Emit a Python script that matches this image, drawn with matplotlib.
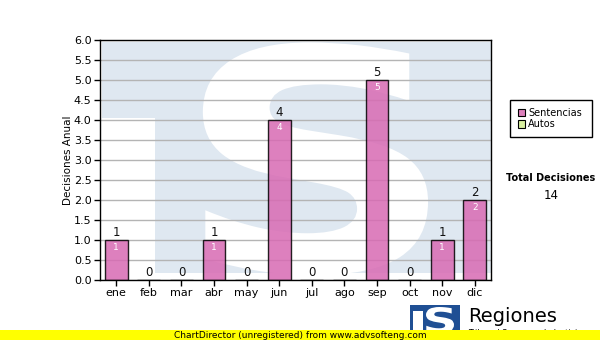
import matplotlib
matplotlib.use("Agg")
import matplotlib.pyplot as plt
from matplotlib.patches import Rectangle, Polygon, PathPatch
from matplotlib.textpath import TextPath
from matplotlib.transforms import Affine2D
from matplotlib.font_manager import FontProperties

months = ["ene", "feb", "mar", "abr", "may", "jun", "jul", "ago", "sep", "oct", "nov", "dic"]
sentencias = [1, 0, 0, 1, 0, 4, 0, 0, 5, 0, 1, 2]
y_ticks = [0.0, 0.5, 1.0, 1.5, 2.0, 2.5, 3.0, 3.5, 4.0, 4.5, 5.0, 5.5, 6.0]
legend_labels = ["Sentencias", "Autos"]
legend_colors = ["#dd80bc", "#d8f0a0"]
total_label = "Total Decisiones"
total_value = sum(sentencias)

plt.rcParams["font.family"] = ["DejaVu Sans"]


def letter_patch(ch, x0, y0, w, h, transform, color, zorder):
    """Glyph outline stretched to fill a box (x0, y0, w, h) in the given coords."""
    tp = TextPath((0, 0), ch, size=1, prop=FontProperties(family="DejaVu Sans", weight="bold"))
    ext = tp.get_extents()
    tr = (Affine2D().translate(-ext.x0, -ext.y0)
          .scale(w / ext.width, h / ext.height).translate(x0, y0))
    return PathPatch(tr.transform_path(tp), transform=transform, facecolor=color,
                     edgecolor="none", zorder=zorder)


fig = plt.figure(figsize=(6, 3.4), dpi=100)
ax = fig.add_axes([100 / 600, 1 - 280 / 340, 391 / 600, 240 / 340])

# watermark logo (light blue T + block with white S)
wm = "#dfe8f1"
ax.add_patch(Polygon([(0.005, 0.992), (1.0, 0.992), (1.0, 0.03), (0.14, 0.03),
                      (0.14, 0.675), (0.005, 0.675)], closed=True,
                     transform=ax.transAxes, facecolor=wm, edgecolor="none", zorder=0))
ax.add_patch(letter_patch("S", 0.263, 0.02, 0.576, 0.97, ax.transAxes, "white", 0.5))

x = list(range(len(months)))
ax.set_axisbelow(True)
ax.yaxis.grid(True, color="#b4b4b4", linewidth=1, zorder=1)
bars = ax.bar(x, sentencias, width=0.7, color="#d86ab3", alpha=0.85,
              edgecolor="black", linewidth=1, zorder=2)
for b in bars:
    b.set_edgecolor((0, 0, 0, 1))

for xi, v in zip(x, sentencias):
    ax.text(xi, v + 0.03, str(v), ha="center", va="bottom", fontsize=8.5, color="#111111", zorder=3)
    if v > 0:
        ax.text(xi, v - 0.08, str(v), ha="center", va="top", fontsize=6.5, color="white", zorder=3)

ax.set_xlim(-0.5, len(months) - 0.5)
ax.set_ylim(0, 6)
ax.set_yticks(y_ticks)
ax.set_yticklabels([f"{t:.1f}" for t in y_ticks], fontsize=8)
ax.set_xticks(x)
ax.set_xticklabels(months, fontsize=8)
ax.tick_params(axis="both", direction="out", length=4, width=1, colors="black", pad=2)
ax.set_ylabel("Decisiones Anual", fontsize=7.5, labelpad=1)
for s in ax.spines.values():
    s.set_color("black")
    s.set_linewidth(1)
    s.set_zorder(4)

# legend box
fig.patches.append(Rectangle((510 / 600, 1 - 137 / 340), 82 / 600, 37 / 340,
                             transform=fig.transFigure, facecolor="white",
                             edgecolor="black", linewidth=1))
for i, (lab, col) in enumerate(zip(legend_labels, legend_colors)):
    yy = 1 - (113 + i * 11) / 340
    fig.patches.append(Rectangle((518 / 600, yy - 3.5 / 340), 7 / 600, 7 / 340,
                                 transform=fig.transFigure, facecolor=col,
                                 edgecolor="black", linewidth=0.8))
    fig.text(528 / 600, yy, lab, fontsize=7, va="center", ha="left")

fig.text(551 / 600, 1 - 178 / 340, total_label, fontsize=7, fontweight="bold",
         ha="center", va="center")
fig.text(551 / 600, 1 - 196 / 340, str(total_value), fontsize=8.5, ha="center", va="center")

# bottom logo
blue = "#1f4f94"
fig.patches.append(Polygon([(410 / 600, 1 - 305 / 340), (460 / 600, 1 - 305 / 340),
                            (460 / 600, 0), (410 / 600, 0)], closed=True,
                           transform=fig.transFigure, facecolor=blue, edgecolor="none"))
fig.patches.append(Rectangle((413 / 600, 1 - 335 / 340), 10 / 600, 24 / 340,
                             transform=fig.transFigure, facecolor="white", edgecolor="none"))
fig.patches.append(letter_patch("S", 426 / 600, 1 - 333 / 340, 28 / 600, 26 / 340,
                                fig.transFigure, "white", 1))
fig.text(468 / 600, 1 - 316 / 340, "Regiones", fontsize=14, ha="left", va="center", color="black")
fig.text(468 / 600, 1 - 333 / 340, "Tribunal Supremo de Justicia", fontsize=5.8, ha="left",
         va="center", color="black")

# yellow banner
fig.patches.append(Rectangle((0, 0), 1, 10 / 340, transform=fig.transFigure,
                             facecolor="#ffff00", edgecolor="none", zorder=5))
fig.text(0.5, 5 / 340, "ChartDirector (unregistered) from www.advsofteng.com", fontsize=6.5,
         ha="center", va="center", zorder=6)

fig.savefig("out.png", dpi=100)
